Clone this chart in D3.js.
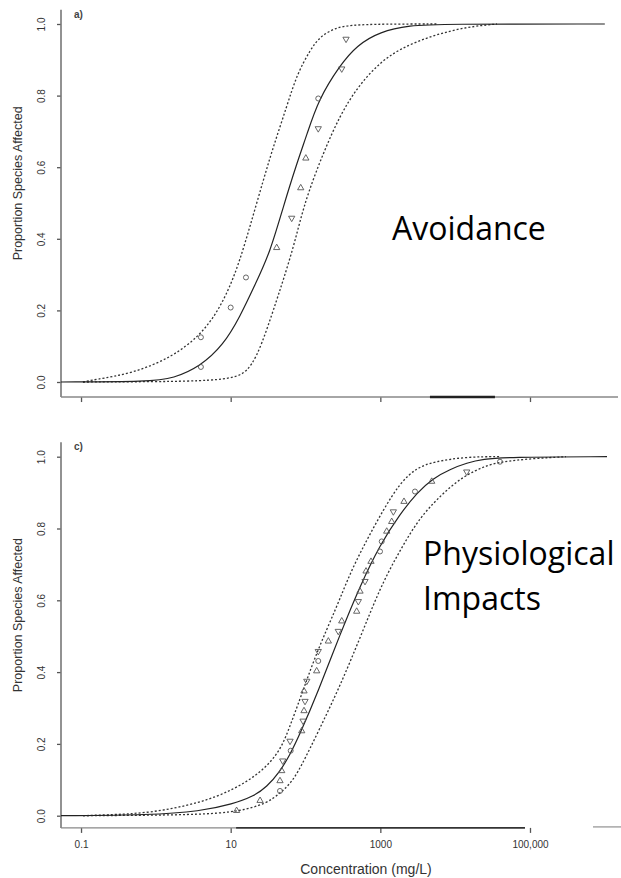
<!DOCTYPE html>
<html>
<head>
<meta charset="utf-8">
<script src="https://cdnjs.cloudflare.com/ajax/libs/d3/7.8.5/d3.min.js"></script>
<style>
  body { margin: 0; background: #fff; }
</style>
</head>
<body>
<div id="main"></div>
<script>
// shared axis values
var xTicks = [0.1, 10, 1000, 100000];
var xTickLabels = ["0.1", "10", "1000", "100,000"];
var yTicks = [0, 0.2, 0.4, 0.6, 0.8, 1.0];

// a) avoidance: fitted curve and bounds, [concentration mg/L, proportion]
var avoidFit = [[0.054, 0], [0.835, 0.001], [1.71, 0.010], [3.89, 0.043], [7.98, 0.103], [13.3, 0.182],
  [21.1, 0.271], [33.6, 0.362], [50.5, 0.49], [76.3, 0.61], [104, 0.69], [148, 0.788], [289, 0.885],
  [483, 0.94], [990, 0.979], [2490, 0.996], [6280, 1], [1.0e6, 1]];
var avoidUpper = [[0.106, 0], [0.145, 0.006], [0.495, 0.024], [1.71, 0.071], [3.89, 0.131], [6.51, 0.192],
  [9.8, 0.266], [13.3, 0.341], [18.1, 0.434], [27.3, 0.564], [37.1, 0.657], [56.1, 0.769], [76.3, 0.858],
  [115, 0.927], [156, 0.965], [248, 0.989], [394, 0.997], [1086, 1], [5720, 1]];
var avoidLower = [[0.106, 0], [2.10, 0.001], [7.2, 0.006], [12.0, 0.015], [16.4, 0.029], [22.3, 0.071],
  [30.3, 0.145], [41.2, 0.229], [50.5, 0.285], [68.7, 0.376], [84.5, 0.45], [109, 0.53], [173, 0.64],
  [289, 0.745], [483, 0.82], [895, 0.885], [1830, 0.932], [5110, 0.969], [14300, 0.992], [36300, 1]];
var avoidCircles = [[4.0, 0.042], [4.0, 0.125], [10.0, 0.208], [16.0, 0.292], [148, 0.792]];
var avoidUp = [[41.2, 0.375], [86.3, 0.542], [101, 0.625]];
var avoidDown = [[65.4, 0.458], [148, 0.708], [305, 0.875], [348, 0.958]];
var avoidAxisBar = [4600, 34000];

// c) physiological impacts
var physioFit = [[0.054, 0], [0.835, 0.002], [3.89, 0.012], [10.8, 0.033], [20.1, 0.054], [30.3, 0.08],
  [45.6, 0.123], [62.1, 0.17], [84.5, 0.228], [147, 0.345], [289, 0.505], [535, 0.64], [990, 0.755],
  [1830, 0.84], [3090, 0.9], [5060, 0.94], [8530, 0.965], [14400, 0.983], [23600, 0.993], [49300, 0.999],
  [1.07e6, 1]];
var physioUpper = [[0.106, 0], [0.197, 0.002], [0.835, 0.007], [3.89, 0.035], [10.8, 0.072], [24.7, 0.118],
  [45.6, 0.178], [62.1, 0.25], [84.5, 0.325], [141, 0.456], [261, 0.581], [394, 0.676], [658, 0.768],
  [1096, 0.852], [1830, 0.927], [3060, 0.969], [5110, 0.986], [14300, 1], [39700, 1]];
var physioLower = [[0.106, 0], [3.89, 0.002], [13.3, 0.012], [30.3, 0.034], [45.6, 0.063], [62.1, 0.088],
  [84.5, 0.13], [156, 0.244], [289, 0.361], [535, 0.495], [990, 0.634], [1656, 0.723], [3060, 0.818],
  [5110, 0.871], [8530, 0.916], [14300, 0.95], [23800, 0.972], [39700, 0.986], [110000, 0.995], [303000, 1]];
var physioCircles = [[45.6, 0.069], [63.4, 0.181], [148, 0.431], [990, 0.736], [1043, 0.764], [2904, 0.903],
  [39700, 0.986]];
var physioUp = [[12.0, 0.014], [24.7, 0.042], [45.6, 0.097], [48.1, 0.125], [89.0, 0.236], [95.5, 0.292],
  [95.5, 0.347], [141, 0.403], [202, 0.486], [305, 0.542], [483, 0.569], [535, 0.625], [644, 0.681],
  [750, 0.708], [1217, 0.792], [1419, 0.819], [2070, 0.875], [4860, 0.931]];
var physioDown = [[49.6, 0.153], [62.1, 0.208], [92.7, 0.264], [98.5, 0.319], [104, 0.375], [148, 0.458],
  [274, 0.514], [508, 0.597], [624, 0.653], [1492, 0.847], [14260, 0.958]];
var physioAxisDark = [11.8, 85700];
var physioAxisRight = [695000, 1.8e6];

var width = 621;
var height = 878;

var svg = d3.select("#main").append("svg")
  .attr("width", width)
  .attr("height", height)
  .style("background", "#fff");

var x = d3.scaleLog()
  .domain([0.054, 1.5e6])
  .range([61, 618]);

drawPanel({
  zero: 382, one: 24, axisTopP: 1.04, axisBottomP: -0.042,
  tag: "a)", fit: avoidFit, upper: avoidUpper, lower: avoidLower,
  circles: avoidCircles, up: avoidUp, down: avoidDown,
  labels: false, note: ["Avoidance"], noteX: 392, noteY: 240
});

drawPanel({
  zero: 815.7, one: 456.7, axisTopP: 1.04, axisBottomP: -0.034,
  tag: "c)", fit: physioFit, upper: physioUpper, lower: physioLower,
  circles: physioCircles, up: physioUp, down: physioDown,
  labels: true, note: ["Physiological", "Impacts"], noteX: 423, noteY: 565
});

function drawPanel(p) {
  var y = d3.scaleLinear().domain([0, 1]).range([p.zero, p.one]);
  var g = svg.append("g");
  var axisY = y(p.axisBottomP);

  // y axis
  var yAxis = d3.axisLeft(y)
    .tickValues(yTicks)
    .tickSize(4)
    .tickFormat(d3.format(".1f"));

  var gy = g.append("g")
    .attr("transform", "translate(61,0)")
    .attr("font-family", "'Liberation Sans', Arial, sans-serif")
    .attr("font-size", 11)
    .attr("color", "#555")
    .call(yAxis);
  gy.select(".domain").remove();
  gy.selectAll(".tick line").attr("stroke-width", 1.3);
  gy.selectAll(".tick text")
    .attr("transform", "rotate(-90)")
    .attr("x", 0)
    .attr("y", -16)
    .attr("dy", 0)
    .attr("text-anchor", "middle")
    .attr("fill", "#333");

  g.append("line")
    .attr("x1", 61).attr("x2", 61)
    .attr("y1", y(p.axisTopP)).attr("y2", axisY)
    .attr("stroke", "#777").attr("stroke-width", 1.6);

  // x axis
  var xAxis = d3.axisBottom(x)
    .tickValues(xTicks)
    .tickSize(5)
    .tickFormat(function(d, i) {
      return p.labels ? xTickLabels[i] : "";
    });

  var gx = g.append("g")
    .attr("transform", "translate(0," + axisY + ")")
    .attr("font-family", "'Liberation Sans', Arial, sans-serif")
    .attr("font-size", 12)
    .attr("color", "#555")
    .call(xAxis);
  gx.select(".domain").remove();
  gx.selectAll(".tick line").attr("stroke-width", 1.3);
  gx.selectAll(".tick text").attr("y", 13.5).attr("fill", "#333");

  if (p.labels) {
    g.append("line")
      .attr("x1", 61).attr("x2", x(physioAxisDark[0]))
      .attr("y1", axisY).attr("y2", axisY)
      .attr("stroke", "#888").attr("stroke-width", 1.4);
    g.append("line")
      .attr("x1", x(physioAxisDark[0])).attr("x2", x(physioAxisDark[1]))
      .attr("y1", axisY).attr("y2", axisY)
      .attr("stroke", "#333").attr("stroke-width", 1.8);
    g.append("line")
      .attr("x1", x(physioAxisRight[0])).attr("x2", x(physioAxisRight[1]))
      .attr("y1", axisY - 1).attr("y2", axisY - 1)
      .attr("stroke", "#999").attr("stroke-width", 1.3);

    g.append("text")
      .attr("x", 366)
      .attr("y", 874)
      .attr("text-anchor", "middle")
      .attr("font-family", "'Liberation Sans', Arial, sans-serif")
      .attr("font-size", 14)
      .attr("fill", "#333")
      .text("Concentration (mg/L)");
  } else {
    g.append("line")
      .attr("x1", 61).attr("x2", 618)
      .attr("y1", axisY).attr("y2", axisY)
      .attr("stroke", "#888").attr("stroke-width", 1.5);
    g.append("line")
      .attr("x1", x(avoidAxisBar[0])).attr("x2", x(avoidAxisBar[1]))
      .attr("y1", axisY).attr("y2", axisY)
      .attr("stroke", "#222").attr("stroke-width", 2.6);
  }

  // y label
  var midY = (y(p.axisTopP) + axisY) / 2 - 20;
  g.append("text")
    .attr("transform", "translate(22," + midY + ") rotate(-90)")
    .attr("text-anchor", "middle")
    .attr("font-family", "'Liberation Sans', Arial, sans-serif")
    .attr("font-size", 12.5)
    .attr("fill", "#333")
    .text("Proportion Species Affected");

  g.append("text")
    .attr("x", 74)
    .attr("y", y(p.axisTopP) + 8)
    .attr("font-family", "'Liberation Sans', Arial, sans-serif")
    .attr("font-size", 10)
    .attr("font-weight", "bold")
    .attr("fill", "#444")
    .text(p.tag);

  // curves, smoothed through the read points
  var line = d3.line()
    .x(function(d) { return x(d[0]); })
    .y(function(d) { return y(d[1]); })
    .curve(d3.curveBasis);

  g.append("path")
    .attr("d", line(p.upper))
    .attr("fill", "none")
    .attr("stroke", "#333")
    .attr("stroke-width", 1.3)
    .attr("stroke-dasharray", "2,2");

  g.append("path")
    .attr("d", line(p.lower))
    .attr("fill", "none")
    .attr("stroke", "#333")
    .attr("stroke-width", 1.3)
    .attr("stroke-dasharray", "2,2");

  g.append("path")
    .attr("d", line(p.fit))
    .attr("fill", "none")
    .attr("stroke", "#222")
    .attr("stroke-width", 1.2);

  // points
  g.selectAll(".circ")
    .data(p.circles)
    .enter().append("circle")
    .attr("class", "circ")
    .attr("cx", function(d) { return x(d[0]); })
    .attr("cy", function(d) { return y(d[1]); })
    .attr("r", 2.5)
    .attr("fill", "none")
    .attr("stroke", "#555")
    .attr("stroke-width", 0.9);

  var tri = d3.symbol().type(d3.symbolTriangle).size(17);

  g.selectAll(".up")
    .data(p.up)
    .enter().append("path")
    .attr("class", "up")
    .attr("d", tri)
    .attr("transform", function(d) {
      return "translate(" + x(d[0]) + "," + y(d[1]) + ")";
    })
    .attr("fill", "none")
    .attr("stroke", "#555")
    .attr("stroke-width", 0.9);

  g.selectAll(".down")
    .data(p.down)
    .enter().append("path")
    .attr("class", "down")
    .attr("d", tri)
    .attr("transform", function(d) {
      return "translate(" + x(d[0]) + "," + y(d[1]) + ") rotate(180)";
    })
    .attr("fill", "none")
    .attr("stroke", "#555")
    .attr("stroke-width", 0.9);

  // big annotation
  p.note.forEach(function(t, i) {
    g.append("text")
      .attr("x", p.noteX)
      .attr("y", p.noteY + i * 45)
      .attr("font-family", "'Open Sans', 'Noto Sans', sans-serif")
      .attr("font-size", 32)
      .attr("fill", "#000")
      .text(t);
  });
}
</script>
</body>
</html>
